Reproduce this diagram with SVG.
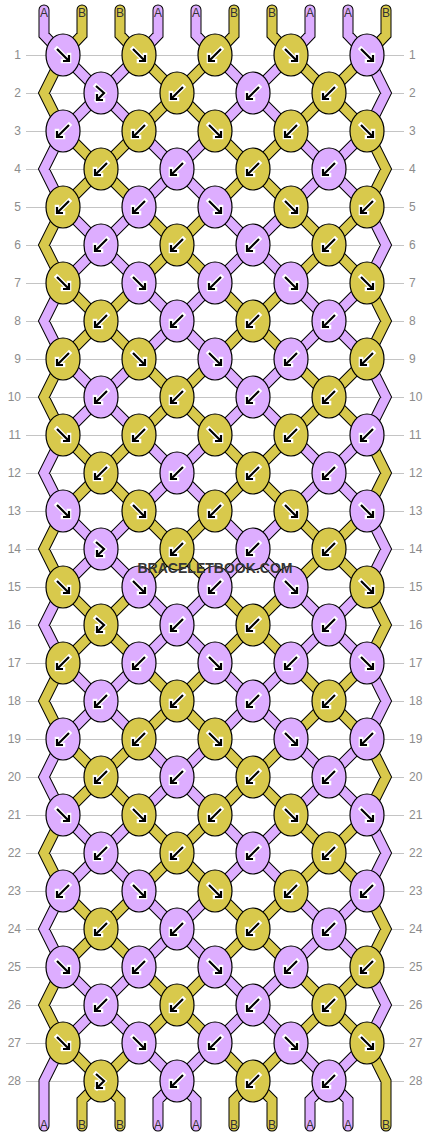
<svg xmlns="http://www.w3.org/2000/svg" width="430" height="1136" viewBox="0 0 430 1136">
<style>
.g{fill:none;stroke:#c4c4c4;stroke-width:1}
.o{fill:none;stroke:#000;stroke-width:11;stroke-linejoin:miter;stroke-linecap:round}
.cp{fill:none;stroke:#DDADFF;stroke-width:9;stroke-linejoin:miter;stroke-linecap:round}
.cy{fill:none;stroke:#D8C94C;stroke-width:9;stroke-linejoin:miter;stroke-linecap:round}
.kp{fill:#DDADFF;stroke:#000;stroke-width:1.2}
.ky{fill:#D8C94C;stroke:#000;stroke-width:1.2}
.aw{fill:none;stroke:#fff;stroke-width:4.6;stroke-linecap:square;stroke-linejoin:miter}
.ab{fill:none;stroke:#000;stroke-width:2.2;stroke-linejoin:miter}
.rl{font-family:"Liberation Sans",Arial,sans-serif;font-size:12px;fill:#8c8c8c}
.sl{font-family:"Liberation Sans",Arial,sans-serif;font-size:12px;fill:#333;text-anchor:middle}
.wm{font-family:"Liberation Sans",Arial,sans-serif;font-size:15.5px;font-weight:bold;fill:#363636;text-anchor:middle}
</style>
<defs>
<ellipse id="kn" cx="0" cy="0" rx="17" ry="21"/>
<path id="pF" d="M-6,-6L5,5M6,0V6H0"/>
<path id="pB" d="M6,-6L-5,5M-6,0V6H0"/>
<path id="pH" d="M-5,-7L3,0L-4,7M-4,1V7H2"/>
<g id="F"><use href="#pF" class="aw"/><use href="#pF" class="ab"/></g>
<g id="B"><use href="#pB" class="aw"/><use href="#pB" class="ab"/></g>
<g id="H"><use href="#pH" class="aw"/><use href="#pH" class="ab"/></g>
<path id="sp" d="M44,10V35L63,55M158,10V35L139,55M196,10V35L215,55M310,10V35L291,55M348,10V35L367,55
M63,55L139,131M139,55L63,131M215,55L291,131M291,55L215,131
M63,207L139,283M139,207L63,283M215,207L291,283M291,207L215,283
M63,359L139,435M139,359L63,435M215,359L291,435M291,359L215,435
M63,511L139,587M139,511L63,587M215,511L291,587M291,511L215,587
M63,663L139,739M139,663L63,739M215,663L291,739M291,663L215,739
M63,815L139,891M139,815L63,891M215,815L291,891M291,815L215,891
M63,967L139,1043M139,967L63,1043M215,967L291,1043M291,967L215,1043
M139,131L215,207M215,131L139,207M291,131L367,207M367,131L291,207
M139,283L215,359M215,283L139,359M291,283L367,359M367,283L291,359
M139,435L215,511M215,435L139,511M291,435L367,511M367,435L291,511
M139,587L215,663M215,587L139,663M291,587L367,663M367,587L291,663
M139,739L215,815M215,739L139,815M291,739L367,815M367,739L291,815
M139,891L215,967M215,891L139,967M291,891L367,967M367,891L291,967
M139,1043L177,1081M215,1043L177,1081M177,1081L158,1100V1126M177,1081L196,1100V1126
M291,1043L329,1081M367,1043L329,1081M329,1081L310,1100V1126M329,1081L348,1100V1126
M63,131L44,169L63,207M63,283L44,321L63,359M63,435L44,473L63,511M63,587L44,625L63,663M63,739L44,777L63,815M63,891L44,929L63,967M63,1043L44,1081V1126
M367,55L386,93L367,131M367,207L386,245L367,283M367,359L386,397L367,435M367,511L386,549L367,587M367,663L386,701L367,739M367,815L386,853L367,891M367,967L386,1005L367,1043"/>
<path id="sy" d="M82,10V35L63,55M120,10V35L139,55M234,10V35L215,55M272,10V35L291,55M386,10V35L367,55
M139,55L215,131M215,55L139,131M291,55L367,131M367,55L291,131
M139,207L215,283M215,207L139,283M291,207L367,283M367,207L291,283
M139,359L215,435M215,359L139,435M291,359L367,435M367,359L291,435
M139,511L215,587M215,511L139,587M291,511L367,587M367,511L291,587
M139,663L215,739M215,663L139,739M291,663L367,739M367,663L291,739
M139,815L215,891M215,815L139,891M291,815L367,891M367,815L291,891
M139,967L215,1043M215,967L139,1043M291,967L367,1043M367,967L291,1043
M63,131L139,207M139,131L63,207M215,131L291,207M291,131L215,207
M63,283L139,359M139,283L63,359M215,283L291,359M291,283L215,359
M63,435L139,511M139,435L63,511M215,435L291,511M291,435L215,511
M63,587L139,663M139,587L63,663M215,587L291,663M291,587L215,663
M63,739L139,815M139,739L63,815M215,739L291,815M291,739L215,815
M63,891L139,967M139,891L63,967M215,891L291,967M291,891L215,967
M63,1043L101,1081M139,1043L101,1081M101,1081L82,1100V1126M101,1081L120,1100V1126
M215,1043L253,1081M291,1043L253,1081M253,1081L234,1100V1126M253,1081L272,1100V1126
M63,55L44,93L63,131M63,207L44,245L63,283M63,359L44,397L63,435M63,511L44,549L63,587M63,663L44,701L63,739M63,815L44,853L63,891M63,967L44,1005L63,1043
M367,131L386,169L367,207M367,283L386,321L367,359M367,435L386,473L367,511M367,587L386,625L367,663M367,739L386,777L367,815M367,891L386,929L367,967M367,1043L386,1081V1126"/>
</defs>
<rect width="430" height="1136" fill="#fff"/>
<g id="grid">
<path class="g" d="M26,55.5H404M26,93.5H404M26,131.5H404M26,169.5H404M26,207.5H404M26,245.5H404M26,283.5H404M26,321.5H404M26,359.5H404M26,397.5H404M26,435.5H404M26,473.5H404M26,511.5H404M26,549.5H404M26,587.5H404M26,625.5H404M26,663.5H404M26,701.5H404M26,739.5H404M26,777.5H404M26,815.5H404M26,853.5H404M26,891.5H404M26,929.5H404M26,967.5H404M26,1005.5H404M26,1043.5H404M26,1081.5H404"/>
</g>
<g id="row-labels" class="rl">
<g text-anchor="end">
<text x="21" y="59.3">1</text><text x="21" y="97.3">2</text><text x="21" y="135.3">3</text><text x="21" y="173.3">4</text><text x="21" y="211.3">5</text><text x="21" y="249.3">6</text><text x="21" y="287.3">7</text><text x="21" y="325.3">8</text><text x="21" y="363.3">9</text><text x="21" y="401.3">10</text><text x="21" y="439.3">11</text><text x="21" y="477.3">12</text><text x="21" y="515.3">13</text><text x="21" y="553.3">14</text><text x="21" y="591.3">15</text><text x="21" y="629.3">16</text><text x="21" y="667.3">17</text><text x="21" y="705.3">18</text><text x="21" y="743.3">19</text><text x="21" y="781.3">20</text><text x="21" y="819.3">21</text><text x="21" y="857.3">22</text><text x="21" y="895.3">23</text><text x="21" y="933.3">24</text><text x="21" y="971.3">25</text><text x="21" y="1009.3">26</text><text x="21" y="1047.3">27</text><text x="21" y="1085.3">28</text>
</g>
<g text-anchor="start">
<text x="409" y="59.3">1</text><text x="409" y="97.3">2</text><text x="409" y="135.3">3</text><text x="409" y="173.3">4</text><text x="409" y="211.3">5</text><text x="409" y="249.3">6</text><text x="409" y="287.3">7</text><text x="409" y="325.3">8</text><text x="409" y="363.3">9</text><text x="409" y="401.3">10</text><text x="409" y="439.3">11</text><text x="409" y="477.3">12</text><text x="409" y="515.3">13</text><text x="409" y="553.3">14</text><text x="409" y="591.3">15</text><text x="409" y="629.3">16</text><text x="409" y="667.3">17</text><text x="409" y="705.3">18</text><text x="409" y="743.3">19</text><text x="409" y="781.3">20</text><text x="409" y="819.3">21</text><text x="409" y="857.3">22</text><text x="409" y="895.3">23</text><text x="409" y="933.3">24</text><text x="409" y="971.3">25</text><text x="409" y="1009.3">26</text><text x="409" y="1047.3">27</text><text x="409" y="1085.3">28</text>
</g>
</g>
<g id="connectors">
<use href="#sp" class="o"/><use href="#sy" class="o"/>
<use href="#sp" class="cp"/><use href="#sy" class="cy"/>
</g>
<g id="strand-labels" class="sl">
<text x="44" y="17">A</text><text x="82" y="17">B</text><text x="120" y="17">B</text><text x="158" y="17">A</text><text x="196" y="17">A</text><text x="234" y="17">B</text><text x="272" y="17">B</text><text x="310" y="17">A</text><text x="348" y="17">A</text><text x="386" y="17">B</text>
<text x="44" y="1129">A</text><text x="82" y="1129">B</text><text x="120" y="1129">B</text><text x="158" y="1129">A</text><text x="196" y="1129">A</text><text x="234" y="1129">B</text><text x="272" y="1129">B</text><text x="310" y="1129">A</text><text x="348" y="1129">A</text><text x="386" y="1129">B</text>
</g>
<g id="knots">
<g id="k1-1"><use href="#kn" class="kp" x="63" y="55"/><use href="#F" x="63" y="55"/></g>
<g id="k1-2"><use href="#kn" class="ky" x="139" y="55"/><use href="#F" x="139" y="55"/></g>
<g id="k1-3"><use href="#kn" class="ky" x="215" y="55"/><use href="#B" x="215" y="55"/></g>
<g id="k1-4"><use href="#kn" class="ky" x="291" y="55"/><use href="#F" x="291" y="55"/></g>
<g id="k1-5"><use href="#kn" class="kp" x="367" y="55"/><use href="#F" x="367" y="55"/></g>
<g id="k2-1"><use href="#kn" class="kp" x="101" y="93"/><use href="#H" x="101" y="93"/></g>
<g id="k2-2"><use href="#kn" class="ky" x="177" y="93"/><use href="#B" x="177" y="93"/></g>
<g id="k2-3"><use href="#kn" class="kp" x="253" y="93"/><use href="#B" x="253" y="93"/></g>
<g id="k2-4"><use href="#kn" class="ky" x="329" y="93"/><use href="#B" x="329" y="93"/></g>
<g id="k3-1"><use href="#kn" class="kp" x="63" y="131"/><use href="#B" x="63" y="131"/></g>
<g id="k3-2"><use href="#kn" class="ky" x="139" y="131"/><use href="#B" x="139" y="131"/></g>
<g id="k3-3"><use href="#kn" class="ky" x="215" y="131"/><use href="#F" x="215" y="131"/></g>
<g id="k3-4"><use href="#kn" class="ky" x="291" y="131"/><use href="#B" x="291" y="131"/></g>
<g id="k3-5"><use href="#kn" class="ky" x="367" y="131"/><use href="#F" x="367" y="131"/></g>
<g id="k4-1"><use href="#kn" class="ky" x="101" y="169"/><use href="#B" x="101" y="169"/></g>
<g id="k4-2"><use href="#kn" class="kp" x="177" y="169"/><use href="#B" x="177" y="169"/></g>
<g id="k4-3"><use href="#kn" class="ky" x="253" y="169"/><use href="#B" x="253" y="169"/></g>
<g id="k4-4"><use href="#kn" class="kp" x="329" y="169"/><use href="#B" x="329" y="169"/></g>
<g id="k5-1"><use href="#kn" class="ky" x="63" y="207"/><use href="#B" x="63" y="207"/></g>
<g id="k5-2"><use href="#kn" class="kp" x="139" y="207"/><use href="#B" x="139" y="207"/></g>
<g id="k5-3"><use href="#kn" class="kp" x="215" y="207"/><use href="#F" x="215" y="207"/></g>
<g id="k5-4"><use href="#kn" class="ky" x="291" y="207"/><use href="#F" x="291" y="207"/></g>
<g id="k5-5"><use href="#kn" class="ky" x="367" y="207"/><use href="#B" x="367" y="207"/></g>
<g id="k6-1"><use href="#kn" class="kp" x="101" y="245"/><use href="#B" x="101" y="245"/></g>
<g id="k6-2"><use href="#kn" class="ky" x="177" y="245"/><use href="#B" x="177" y="245"/></g>
<g id="k6-3"><use href="#kn" class="kp" x="253" y="245"/><use href="#B" x="253" y="245"/></g>
<g id="k6-4"><use href="#kn" class="ky" x="329" y="245"/><use href="#B" x="329" y="245"/></g>
<g id="k7-1"><use href="#kn" class="ky" x="63" y="283"/><use href="#F" x="63" y="283"/></g>
<g id="k7-2"><use href="#kn" class="kp" x="139" y="283"/><use href="#F" x="139" y="283"/></g>
<g id="k7-3"><use href="#kn" class="kp" x="215" y="283"/><use href="#B" x="215" y="283"/></g>
<g id="k7-4"><use href="#kn" class="kp" x="291" y="283"/><use href="#F" x="291" y="283"/></g>
<g id="k7-5"><use href="#kn" class="ky" x="367" y="283"/><use href="#F" x="367" y="283"/></g>
<g id="k8-1"><use href="#kn" class="ky" x="101" y="321"/><use href="#B" x="101" y="321"/></g>
<g id="k8-2"><use href="#kn" class="kp" x="177" y="321"/><use href="#B" x="177" y="321"/></g>
<g id="k8-3"><use href="#kn" class="ky" x="253" y="321"/><use href="#B" x="253" y="321"/></g>
<g id="k8-4"><use href="#kn" class="kp" x="329" y="321"/><use href="#B" x="329" y="321"/></g>
<g id="k9-1"><use href="#kn" class="ky" x="63" y="359"/><use href="#B" x="63" y="359"/></g>
<g id="k9-2"><use href="#kn" class="ky" x="139" y="359"/><use href="#F" x="139" y="359"/></g>
<g id="k9-3"><use href="#kn" class="kp" x="215" y="359"/><use href="#F" x="215" y="359"/></g>
<g id="k9-4"><use href="#kn" class="kp" x="291" y="359"/><use href="#B" x="291" y="359"/></g>
<g id="k9-5"><use href="#kn" class="ky" x="367" y="359"/><use href="#B" x="367" y="359"/></g>
<g id="k10-1"><use href="#kn" class="kp" x="101" y="397"/><use href="#B" x="101" y="397"/></g>
<g id="k10-2"><use href="#kn" class="ky" x="177" y="397"/><use href="#B" x="177" y="397"/></g>
<g id="k10-3"><use href="#kn" class="kp" x="253" y="397"/><use href="#B" x="253" y="397"/></g>
<g id="k10-4"><use href="#kn" class="ky" x="329" y="397"/><use href="#B" x="329" y="397"/></g>
<g id="k11-1"><use href="#kn" class="ky" x="63" y="435"/><use href="#F" x="63" y="435"/></g>
<g id="k11-2"><use href="#kn" class="ky" x="139" y="435"/><use href="#B" x="139" y="435"/></g>
<g id="k11-3"><use href="#kn" class="ky" x="215" y="435"/><use href="#F" x="215" y="435"/></g>
<g id="k11-4"><use href="#kn" class="ky" x="291" y="435"/><use href="#B" x="291" y="435"/></g>
<g id="k11-5"><use href="#kn" class="kp" x="367" y="435"/><use href="#B" x="367" y="435"/></g>
<g id="k12-1"><use href="#kn" class="ky" x="101" y="473"/><use href="#B" x="101" y="473"/></g>
<g id="k12-2"><use href="#kn" class="kp" x="177" y="473"/><use href="#B" x="177" y="473"/></g>
<g id="k12-3"><use href="#kn" class="ky" x="253" y="473"/><use href="#B" x="253" y="473"/></g>
<g id="k12-4"><use href="#kn" class="kp" x="329" y="473"/><use href="#B" x="329" y="473"/></g>
<g id="k13-1"><use href="#kn" class="kp" x="63" y="511"/><use href="#F" x="63" y="511"/></g>
<g id="k13-2"><use href="#kn" class="ky" x="139" y="511"/><use href="#F" x="139" y="511"/></g>
<g id="k13-3"><use href="#kn" class="ky" x="215" y="511"/><use href="#B" x="215" y="511"/></g>
<g id="k13-4"><use href="#kn" class="ky" x="291" y="511"/><use href="#F" x="291" y="511"/></g>
<g id="k13-5"><use href="#kn" class="kp" x="367" y="511"/><use href="#F" x="367" y="511"/></g>
<g id="k14-1"><use href="#kn" class="kp" x="101" y="549"/><use href="#H" x="101" y="549"/></g>
<g id="k14-2"><use href="#kn" class="ky" x="177" y="549"/><use href="#B" x="177" y="549"/></g>
<g id="k14-3"><use href="#kn" class="kp" x="253" y="549"/><use href="#B" x="253" y="549"/></g>
<g id="k14-4"><use href="#kn" class="ky" x="329" y="549"/><use href="#B" x="329" y="549"/></g>
<g id="k15-1"><use href="#kn" class="ky" x="63" y="587"/><use href="#F" x="63" y="587"/></g>
<g id="k15-2"><use href="#kn" class="kp" x="139" y="587"/><use href="#F" x="139" y="587"/></g>
<g id="k15-3"><use href="#kn" class="kp" x="215" y="587"/><use href="#B" x="215" y="587"/></g>
<g id="k15-4"><use href="#kn" class="kp" x="291" y="587"/><use href="#F" x="291" y="587"/></g>
<g id="k15-5"><use href="#kn" class="ky" x="367" y="587"/><use href="#F" x="367" y="587"/></g>
<g id="k16-1"><use href="#kn" class="ky" x="101" y="625"/><use href="#H" x="101" y="625"/></g>
<g id="k16-2"><use href="#kn" class="kp" x="177" y="625"/><use href="#B" x="177" y="625"/></g>
<g id="k16-3"><use href="#kn" class="ky" x="253" y="625"/><use href="#B" x="253" y="625"/></g>
<g id="k16-4"><use href="#kn" class="kp" x="329" y="625"/><use href="#B" x="329" y="625"/></g>
<g id="k17-1"><use href="#kn" class="ky" x="63" y="663"/><use href="#B" x="63" y="663"/></g>
<g id="k17-2"><use href="#kn" class="kp" x="139" y="663"/><use href="#B" x="139" y="663"/></g>
<g id="k17-3"><use href="#kn" class="kp" x="215" y="663"/><use href="#F" x="215" y="663"/></g>
<g id="k17-4"><use href="#kn" class="kp" x="291" y="663"/><use href="#B" x="291" y="663"/></g>
<g id="k17-5"><use href="#kn" class="kp" x="367" y="663"/><use href="#F" x="367" y="663"/></g>
<g id="k18-1"><use href="#kn" class="kp" x="101" y="701"/><use href="#B" x="101" y="701"/></g>
<g id="k18-2"><use href="#kn" class="ky" x="177" y="701"/><use href="#B" x="177" y="701"/></g>
<g id="k18-3"><use href="#kn" class="kp" x="253" y="701"/><use href="#B" x="253" y="701"/></g>
<g id="k18-4"><use href="#kn" class="ky" x="329" y="701"/><use href="#B" x="329" y="701"/></g>
<g id="k19-1"><use href="#kn" class="kp" x="63" y="739"/><use href="#B" x="63" y="739"/></g>
<g id="k19-2"><use href="#kn" class="ky" x="139" y="739"/><use href="#B" x="139" y="739"/></g>
<g id="k19-3"><use href="#kn" class="ky" x="215" y="739"/><use href="#F" x="215" y="739"/></g>
<g id="k19-4"><use href="#kn" class="kp" x="291" y="739"/><use href="#F" x="291" y="739"/></g>
<g id="k19-5"><use href="#kn" class="kp" x="367" y="739"/><use href="#B" x="367" y="739"/></g>
<g id="k20-1"><use href="#kn" class="ky" x="101" y="777"/><use href="#B" x="101" y="777"/></g>
<g id="k20-2"><use href="#kn" class="kp" x="177" y="777"/><use href="#B" x="177" y="777"/></g>
<g id="k20-3"><use href="#kn" class="ky" x="253" y="777"/><use href="#B" x="253" y="777"/></g>
<g id="k20-4"><use href="#kn" class="kp" x="329" y="777"/><use href="#B" x="329" y="777"/></g>
<g id="k21-1"><use href="#kn" class="kp" x="63" y="815"/><use href="#F" x="63" y="815"/></g>
<g id="k21-2"><use href="#kn" class="ky" x="139" y="815"/><use href="#F" x="139" y="815"/></g>
<g id="k21-3"><use href="#kn" class="ky" x="215" y="815"/><use href="#B" x="215" y="815"/></g>
<g id="k21-4"><use href="#kn" class="ky" x="291" y="815"/><use href="#F" x="291" y="815"/></g>
<g id="k21-5"><use href="#kn" class="kp" x="367" y="815"/><use href="#F" x="367" y="815"/></g>
<g id="k22-1"><use href="#kn" class="kp" x="101" y="853"/><use href="#B" x="101" y="853"/></g>
<g id="k22-2"><use href="#kn" class="ky" x="177" y="853"/><use href="#B" x="177" y="853"/></g>
<g id="k22-3"><use href="#kn" class="kp" x="253" y="853"/><use href="#B" x="253" y="853"/></g>
<g id="k22-4"><use href="#kn" class="ky" x="329" y="853"/><use href="#B" x="329" y="853"/></g>
<g id="k23-1"><use href="#kn" class="kp" x="63" y="891"/><use href="#B" x="63" y="891"/></g>
<g id="k23-2"><use href="#kn" class="kp" x="139" y="891"/><use href="#F" x="139" y="891"/></g>
<g id="k23-3"><use href="#kn" class="ky" x="215" y="891"/><use href="#F" x="215" y="891"/></g>
<g id="k23-4"><use href="#kn" class="ky" x="291" y="891"/><use href="#B" x="291" y="891"/></g>
<g id="k23-5"><use href="#kn" class="kp" x="367" y="891"/><use href="#B" x="367" y="891"/></g>
<g id="k24-1"><use href="#kn" class="ky" x="101" y="929"/><use href="#B" x="101" y="929"/></g>
<g id="k24-2"><use href="#kn" class="kp" x="177" y="929"/><use href="#B" x="177" y="929"/></g>
<g id="k24-3"><use href="#kn" class="ky" x="253" y="929"/><use href="#B" x="253" y="929"/></g>
<g id="k24-4"><use href="#kn" class="kp" x="329" y="929"/><use href="#B" x="329" y="929"/></g>
<g id="k25-1"><use href="#kn" class="kp" x="63" y="967"/><use href="#F" x="63" y="967"/></g>
<g id="k25-2"><use href="#kn" class="kp" x="139" y="967"/><use href="#B" x="139" y="967"/></g>
<g id="k25-3"><use href="#kn" class="kp" x="215" y="967"/><use href="#F" x="215" y="967"/></g>
<g id="k25-4"><use href="#kn" class="kp" x="291" y="967"/><use href="#B" x="291" y="967"/></g>
<g id="k25-5"><use href="#kn" class="ky" x="367" y="967"/><use href="#B" x="367" y="967"/></g>
<g id="k26-1"><use href="#kn" class="kp" x="101" y="1005"/><use href="#B" x="101" y="1005"/></g>
<g id="k26-2"><use href="#kn" class="ky" x="177" y="1005"/><use href="#B" x="177" y="1005"/></g>
<g id="k26-3"><use href="#kn" class="kp" x="253" y="1005"/><use href="#B" x="253" y="1005"/></g>
<g id="k26-4"><use href="#kn" class="ky" x="329" y="1005"/><use href="#B" x="329" y="1005"/></g>
<g id="k27-1"><use href="#kn" class="ky" x="63" y="1043"/><use href="#F" x="63" y="1043"/></g>
<g id="k27-2"><use href="#kn" class="kp" x="139" y="1043"/><use href="#F" x="139" y="1043"/></g>
<g id="k27-3"><use href="#kn" class="kp" x="215" y="1043"/><use href="#B" x="215" y="1043"/></g>
<g id="k27-4"><use href="#kn" class="kp" x="291" y="1043"/><use href="#F" x="291" y="1043"/></g>
<g id="k27-5"><use href="#kn" class="ky" x="367" y="1043"/><use href="#F" x="367" y="1043"/></g>
<g id="k28-1"><use href="#kn" class="ky" x="101" y="1081"/><use href="#H" x="101" y="1081"/></g>
<g id="k28-2"><use href="#kn" class="kp" x="177" y="1081"/><use href="#B" x="177" y="1081"/></g>
<g id="k28-3"><use href="#kn" class="ky" x="253" y="1081"/><use href="#B" x="253" y="1081"/></g>
<g id="k28-4"><use href="#kn" class="kp" x="329" y="1081"/><use href="#B" x="329" y="1081"/></g>
</g>
<text id="watermark" class="wm" x="215" y="573" textLength="155" lengthAdjust="spacingAndGlyphs">BRACELETBOOK.COM</text>
</svg>
